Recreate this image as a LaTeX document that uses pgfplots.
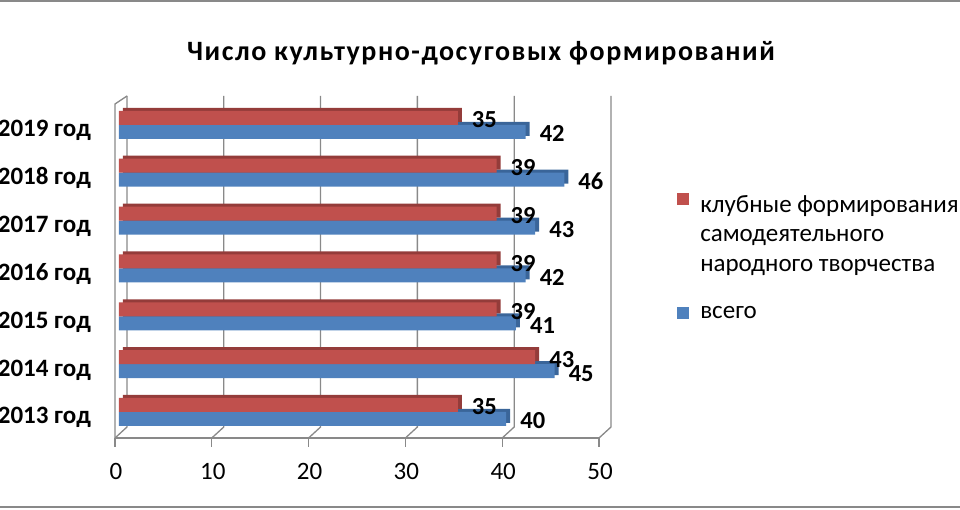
\documentclass[border=0pt]{standalone}
\usepackage{pgfplots}
\pgfplotsset{compat=1.18}
\usepackage{pgfplotstable}
\usepackage{fontspec}
\setmainfont{Carlito}
\newfontfamily\titlefont[LetterSpace=5.5]{Carlito}
\definecolor{redbar}{HTML}{C0504D}
\definecolor{redback}{HTML}{943C3A}
\definecolor{bluebar}{HTML}{4F81BD}
\definecolor{blueback}{HTML}{3A6599}
\definecolor{framegray}{HTML}{898989}

\pgfplotstableread{
y red blue
0 35 40
1 43 45
2 39 41
3 39 42
4 39 43
5 39 46
6 35 42
}\data

\begin{document}
\begin{tikzpicture}
\begin{axis}[
  name=ax, at={(0,0)}, anchor=south west,
  scale only axis, width=484pt, height=334pt,
  xmin=0, xmax=50, ymin=-0.46, ymax=6.52,
  xbar, bar width=14pt,
  clip=false,
  axis line style={draw=none},
  tick style={draw=none},
  major tick length=0pt,
  xtick={0,10,...,50},
  ytick={0,...,6},
  yticklabels={2013 год,2014 год,2015 год,2016 год,2017 год,2018 год,2019 год},
  /pgf/number format/assume math mode=true,
  xticklabel style={font=\fontsize{25}{30}\selectfont, anchor=base, inner sep=0pt, xshift=-3pt, yshift=-46pt},
  yticklabel style={font=\bfseries\fontsize{25}{30}\selectfont, anchor=base east, inner sep=0pt, xshift=-28pt, yshift=-12pt},
  nodes near coords style={font=\bfseries\fontsize{24.5}{29}\selectfont, anchor=base west, inner sep=0pt, xshift=14pt, yshift=-10pt, text=black},
  reverse legend,
  legend style={at={(1.153,0.7216)}, anchor=north west, draw=none, fill=none,
    font=\fontsize{25}{29.5}\selectfont, cells={anchor=west, align=left},
    row sep=29pt, inner sep=0pt, column sep=9pt},
  legend image code/.code={\fill[#1] (0pt,-6pt) rectangle (12pt,6pt);},
]
\pgfplotsinvokeforeach{0,10,20,30,40,50}{
  \draw[framegray,line width=1.3pt] ([xshift=-4pt,yshift=-4pt]axis cs:#1,-0.46) -- ([xshift=8pt,yshift=7pt]axis cs:#1,-0.46) -- ([xshift=8pt,yshift=4pt]axis cs:#1,6.52);
  \draw[framegray,line width=1.3pt] ([xshift=-4pt,yshift=-4pt]axis cs:#1,-0.46) -- ([xshift=-4pt,yshift=-13pt]axis cs:#1,-0.46);
}
\draw[framegray,line width=1.3pt] ([xshift=-4pt,yshift=-4pt]axis cs:0,-0.46) -- ([xshift=-4pt,yshift=-4pt]axis cs:50,-0.46);
\draw[framegray,line width=1.3pt] ([xshift=-4pt,yshift=-4pt]axis cs:0,-0.46) -- ([xshift=-4pt,yshift=-4pt]axis cs:0,6.52) -- ([xshift=8pt,yshift=4pt]axis cs:0,6.52);

\addplot[fill=blueback, draw=none, xshift=4pt, yshift=3pt, bar shift=-7pt, forget plot] table[x=blue,y=y]{\data};
\addplot[fill=bluebar, draw=none, bar shift=-7pt, nodes near coords] table[x=blue,y=y]{\data};
\addlegendentry{всего}
\addplot[fill=redback, draw=none, xshift=4pt, yshift=3pt, bar shift=7pt, forget plot] table[x=red,y=y]{\data};
\addplot[fill=redbar, draw=none, bar shift=7pt, nodes near coords,
  legend image code/.code={\fill[redbar] (0pt,29pt) rectangle (12pt,41pt);}] table[x=red,y=y]{\data};
\addlegendentry{клубные формирования\\самодеятельного\\народного творчества}
\end{axis}
\pgfresetboundingbox
\coordinate (O) at ([shift={(-119pt,-76pt)}]ax.south west);
\path[use as bounding box] (O) rectangle ([shift={(960pt,510pt)}]O);
\draw[framegray, line width=2pt] ([shift={(0pt,509pt)}]O) -- ([shift={(960pt,509pt)}]O);
\draw[framegray, line width=2pt] ([shift={(0pt,3pt)}]O) -- ([shift={(960pt,3pt)}]O);
\node[font=\titlefont\bfseries\fontsize{28}{32}\selectfont, anchor=base, inner sep=0pt] at ([shift={(481pt,449pt)}]O) {Число культурно-досуговых формирований};
\end{tikzpicture}
\end{document}
